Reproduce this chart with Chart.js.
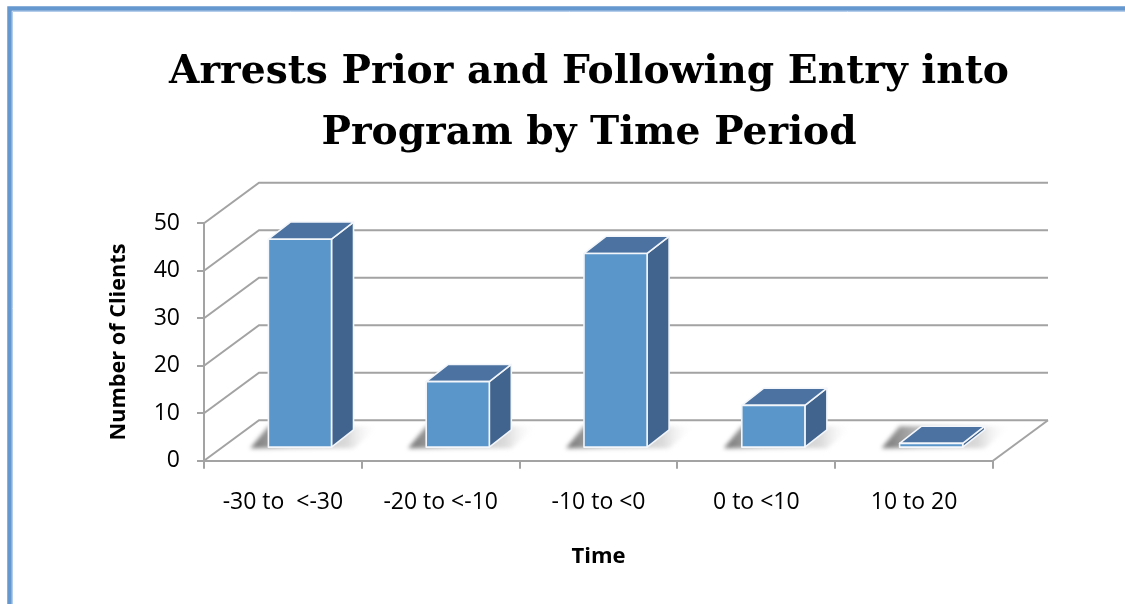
<!DOCTYPE html>
<html>
<head>
<meta charset="utf-8">
<script src="https://cdn.jsdelivr.net/npm/chart.js@4.4.1/dist/chart.umd.min.js"></script>
<style>
  html, body { margin: 0; padding: 0; background: #fff; overflow: hidden; }
  #wrap { position: relative; width: 1125px; height: 604px; }
</style>
</head>
<body>
<div id="wrap"><canvas id="chart" width="1125" height="604"></canvas></div>
<script>
// ---- data ----
const categories = ['-30 to  <-30', '-20 to <-10', '-10 to <0', '0 to <10', '10 to 20'];
const clients = [44, 14, 41, 9, 1];
const yTicks = [0, 10, 20, 30, 40, 50];
const titleLines = ['Arrests Prior and Following Entry into', 'Program by Time Period'];
const xTitle = 'Time';
const yTitle = 'Number of Clients';

// ---- 3-D look ----
const DEPTH = { x: 55, y: -40.5 };        // floor depth as a screen offset
const BAR_FRONT = 0.31, BAR_BACK = 0.71;  // where each column sits in the depth
const COLORS = {
  front: '#5b96cb', top: '#4b72a0', side: '#40648e', edge: '#f3f6fa',
  grid: '#a3a3a3', frame: '#6598cf', frameInner: '#b3cdea'
};

function poly(ctx, pts) {
  ctx.beginPath();
  ctx.moveTo(pts[0][0], pts[0][1]);
  for (let i = 1; i < pts.length; i++) ctx.lineTo(pts[i][0], pts[i][1]);
  ctx.closePath();
}

const box3d = {
  id: 'box3d',
  beforeDraw(chart) {
    const { ctx, width, height } = chart;
    ctx.save();
    ctx.fillStyle = '#fff';
    ctx.fillRect(0, 0, width, height);
    // outer frame of the chart object
    ctx.strokeStyle = COLORS.frame;
    ctx.lineWidth = 4.5;
    ctx.beginPath();
    ctx.moveTo(9.5, height + 10);
    ctx.lineTo(9.5, 8.5);
    ctx.lineTo(width + 10, 8.5);
    ctx.stroke();
    ctx.strokeStyle = COLORS.frameInner;
    ctx.lineWidth = 1;
    ctx.beginPath();
    ctx.moveTo(12.5, height + 10);
    ctx.lineTo(12.5, 11.5);
    ctx.lineTo(width + 10, 11.5);
    ctx.stroke();
    ctx.restore();
  },
  beforeDatasetsDraw(chart) {
    const { ctx, chartArea: a, scales: { y } } = chart;
    ctx.save();
    ctx.strokeStyle = COLORS.grid;
    ctx.lineWidth = 2;
    // side wall diagonals + back wall gridlines (value 0 is the floor's back edge)
    yTicks.forEach(v => {
      const py = y.getPixelForValue(v);
      ctx.beginPath();
      ctx.moveTo(a.left, py);
      ctx.lineTo(a.left + DEPTH.x, py + DEPTH.y);
      ctx.lineTo(a.right + DEPTH.x, py + DEPTH.y);
      ctx.stroke();
    });
    // floor right edge
    ctx.beginPath();
    ctx.moveTo(a.right, a.bottom);
    ctx.lineTo(a.right + DEPTH.x, a.bottom + DEPTH.y);
    ctx.stroke();

    // soft floor shadows under the columns
    const meta = chart.getDatasetMeta(0);
    meta.data.forEach(bar => {
      const { x: cx, base, width } = bar.getProps(['x', 'base', 'width'], true);
      const L = cx - width / 2 + BAR_FRONT * DEPTH.x;
      const R = L + width;
      const B = base + BAR_FRONT * DEPTH.y;
      const g = ctx.createLinearGradient(L - 18, 0, R + 48, 0);
      g.addColorStop(0, 'rgba(80,80,80,0.8)');
      g.addColorStop(0.3, 'rgba(115,115,115,0.5)');
      g.addColorStop(0.75, 'rgba(150,150,150,0.35)');
      g.addColorStop(1, 'rgba(255,255,255,0)');
      ctx.save();
      ctx.filter = 'blur(2px)';
      ctx.fillStyle = g;
      poly(ctx, [[L - 18, B + 1], [L, B - 21], [R + 48, B - 21], [R + 22, B + 1]]);
      ctx.fill();
      ctx.restore();
    });
    ctx.restore();
  },
  afterDatasetsDraw(chart) {
    const { ctx } = chart;
    const meta = chart.getDatasetMeta(0);
    const dx = (BAR_BACK - BAR_FRONT) * DEPTH.x;
    const dy = (BAR_BACK - BAR_FRONT) * DEPTH.y - 1;
    ctx.save();
    ctx.lineWidth = 1.6;
    ctx.lineJoin = 'round';
    ctx.strokeStyle = COLORS.edge;
    meta.data.forEach(bar => {
      const { x: cx, y: top, base, width } = bar.getProps(['x', 'y', 'base', 'width'], true);
      const L = cx - width / 2 + BAR_FRONT * DEPTH.x;
      const R = L + width;
      const T = top + BAR_FRONT * DEPTH.y;
      const B = base + BAR_FRONT * DEPTH.y;
      // side face
      poly(ctx, [[R, T], [R + dx, T + dy], [R + dx, B + dy], [R, B]]);
      ctx.fillStyle = COLORS.side; ctx.fill(); ctx.stroke();
      // top face
      poly(ctx, [[L, T], [R, T], [R + dx, T + dy], [L + dx, T + dy]]);
      ctx.fillStyle = COLORS.top; ctx.fill(); ctx.stroke();
      // front face
      poly(ctx, [[L, T], [R, T], [R, B], [L, B]]);
      ctx.fillStyle = COLORS.front; ctx.fill(); ctx.stroke();
    });
    ctx.restore();
  }
};

new Chart(document.getElementById('chart'), {
  type: 'bar',
  data: {
    labels: categories,
    datasets: [{
      data: clients,
      backgroundColor: 'rgba(0,0,0,0)',
      borderWidth: 0,
      categoryPercentage: 1,
      barPercentage: 0.4
    }]
  },
  options: {
    responsive: false,
    animation: false,
    devicePixelRatio: 1,
    layout: { padding: { left: 53, right: 0, top: 0, bottom: 0 } },
    plugins: {
      legend: { display: false },
      tooltip: { enabled: false },
      title: {
        display: true,
        text: titleLines,
        color: '#000',
        font: { family: 'DejaVu Serif', size: 39.2, weight: 'bold', lineHeight: 1.556 },
        padding: { top: 42, bottom: 59.3 }
      }
    },
    scales: {
      x: {
        grid: { display: true, drawOnChartArea: false, drawTicks: true, tickLength: 8, color: COLORS.grid, lineWidth: 2, offset: true },
        border: { display: true, color: COLORS.grid, width: 2 },
        ticks: { color: '#000', font: { family: 'Open Sans', size: 23 }, padding: 19.5, maxRotation: 0, autoSkip: false },
        title: { display: true, text: xTitle, color: '#000', font: { family: 'Open Sans', size: 22, weight: 'bold' }, padding: { top: 0, bottom: 33.8 } },
        afterFit(s) { s.height = 143.3; }
      },
      y: {
        min: 0,
        max: 50,
        afterBuildTicks(s) { s.ticks = yTicks.map(v => ({ value: v })); },
        ticks: { color: '#000', font: { family: 'Open Sans', size: 23 }, padding: 17 },
        grid: { drawOnChartArea: false, drawTicks: true, tickLength: 7, color: COLORS.grid, lineWidth: 2 },
        border: { display: true, color: COLORS.grid, width: 2 },
        title: { display: true, text: yTitle, color: '#000', font: { family: 'Open Sans', size: 21.7, weight: 'bold' }, padding: { top: 52.5, bottom: 0 } },
        afterFit(s) { s.width = 151; }
      },
      // empty right-hand margin that holds the space beside the back wall
      margin: {
        type: 'linear',
        position: 'right',
        display: true,
        grid: { display: false },
        border: { display: false },
        ticks: { display: false },
        afterFit(s) { s.width = 132; }
      }
    }
  },
  plugins: [box3d]
});
</script>
</body>
</html>
